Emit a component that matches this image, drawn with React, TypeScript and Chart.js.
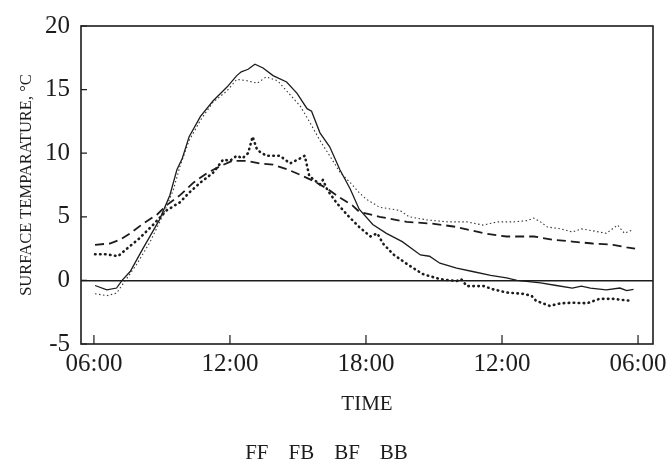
import React, { useEffect, useRef } from "react";
import { Chart, registerables } from "chart.js";

Chart.register(...registerables);

// ---- data (hours since midnight of day 1, temperature in °C) ----
const tickHours = [6, 12, 18, 24, 30];
const tickLabels = ["06:00", "12:00", "18:00", "12:00", "06:00"];

const seriesNames = ["FF", "FB", "BF", "BB"];

const ffHours = [6.05, 6.57, 7.0, 7.24, 7.6, 8.16, 8.9, 9.35, 9.66, 9.9, 10.2, 10.7, 11.25, 11.87, 12.3, 12.5, 12.8, 13.1, 13.46, 13.9, 14.5, 14.96, 15.4, 15.6, 15.97, 16.4, 16.85, 17.3, 17.7, 18.3, 18.9, 19.6, 20.4, 20.8, 21.26, 22.0, 22.7, 23.5, 24.2, 24.66, 25.7, 26.4, 27.1, 27.5, 27.9, 28.6, 29.2, 29.5, 29.8];
const ffTemps = [-0.4, -0.75, -0.6, 0, 0.7, 2.5, 4.8, 6.7, 8.7, 9.6, 11.3, 12.9, 14.1, 15.2, 16.1, 16.4, 16.6, 17.0, 16.7, 16.1, 15.6, 14.7, 13.5, 13.3, 11.6, 10.5, 8.7, 7.2, 5.6, 4.4, 3.7, 3.05, 2.0, 1.9, 1.35, 0.96, 0.7, 0.4, 0.2, 0.0, -0.2, -0.4, -0.6, -0.45, -0.6, -0.75, -0.6, -0.8, -0.7];

const fbHours = [6.05, 6.57, 7.0, 7.37, 7.9, 8.47, 9.04, 9.5, 9.8, 10.2, 10.7, 11.25, 11.87, 12.3, 12.75, 13.2, 13.6, 14.1, 14.5, 15.1, 15.5, 15.97, 16.4, 16.85, 17.3, 17.7, 18.0, 18.6, 19.5, 19.9, 20.7, 21.6, 22.45, 23.16, 23.8, 24.5, 25.1, 25.4, 25.7, 26.0, 26.6, 27.1, 27.5, 28.0, 28.6, 29.1, 29.4, 29.8];
const fbTemps = [-1.05, -1.2, -1.0, -0.05, 1.3, 3.0, 5.1, 7.1, 9.0, 11.0, 12.6, 14.0, 14.9, 15.8, 15.7, 15.5, 16.0, 15.7, 14.9, 13.7, 12.5, 11.0, 9.8, 8.5, 7.7, 6.9, 6.4, 5.75, 5.5, 5.0, 4.75, 4.6, 4.6, 4.35, 4.6, 4.6, 4.7, 4.9, 4.6, 4.2, 4.05, 3.8, 4.05, 3.9, 3.7, 4.35, 3.7, 4.0];

const bfHours = [6.05, 6.7, 7.15, 7.6, 8.16, 8.8, 9.2, 9.8, 10.4, 11.0, 11.6, 12.1, 12.75, 13.3, 13.9, 14.5, 15.1, 15.7, 16.3, 16.85, 17.4, 17.7, 18.6, 19.8, 21.0, 22.0, 23.2, 24.2, 25.4, 26.25, 27.1, 28.0, 28.9, 29.5, 29.87];
const bfTemps = [2.8, 2.9, 3.2, 3.7, 4.45, 5.2, 5.9, 6.7, 7.7, 8.45, 9.0, 9.4, 9.4, 9.2, 9.1, 8.75, 8.3, 7.8, 7.2, 6.5, 5.9, 5.4, 5.0, 4.6, 4.45, 4.2, 3.7, 3.45, 3.45, 3.2, 3.05, 2.9, 2.8, 2.6, 2.5];

const bbHours = [6.05, 6.57, 7.06, 7.46, 8.0, 8.6, 9.2, 9.8, 10.2, 10.7, 11.25, 11.7, 12.0, 12.3, 12.55, 12.8, 13.0, 13.2, 13.6, 14.2, 14.65, 15.1, 15.3, 15.5, 15.97, 16.1, 16.3, 16.7, 17.2, 17.7, 18.2, 18.5, 18.75, 19.2, 19.8, 20.5, 21.26, 22.0, 22.2, 22.45, 23.2, 23.6, 24.2, 24.9, 25.3, 25.5, 26.1, 26.6, 27.1, 27.75, 28.3, 28.9, 29.65];
const bbTemps = [2.05, 2.05, 1.9, 2.5, 3.3, 4.35, 5.5, 6.15, 6.9, 7.7, 8.45, 9.5, 9.4, 9.8, 9.6, 10.0, 11.3, 10.25, 9.8, 9.8, 9.2, 9.6, 9.8, 8.2, 7.55, 7.9, 7.1, 6.1, 5.1, 4.2, 3.45, 3.7, 2.9, 2.05, 1.3, 0.5, 0.1, -0.05, 0.1, -0.45, -0.45, -0.7, -0.95, -1.05, -1.2, -1.6, -2.0, -1.8, -1.75, -1.8, -1.45, -1.45, -1.6];

const xMin = 5.43;
const xMax = 30.66;
const yMin = -5;
const yMax = 20;

const FONT = "'Liberation Serif', 'DejaVu Serif', serif";
const INK = "#1c1c1c";

const toPoints = (hs: number[], ts: number[]) => hs.map((h, i) => ({ x: h, y: ts[i] }));

const framePlugin = {
  id: "frameAndInnerTicks",
  afterDatasetsDraw(chart: any) {
    const { ctx, chartArea, scales } = chart;
    const { left, right, top, bottom } = chartArea;
    ctx.save();
    ctx.strokeStyle = INK;
    ctx.lineWidth = 1.6;
    ctx.strokeRect(left, top, right - left, bottom - top);
    ctx.lineWidth = 1.2;
    ctx.beginPath();
    scales.y.ticks.forEach((t: any) => {
      const py = scales.y.getPixelForValue(t.value);
      ctx.moveTo(left, py);
      ctx.lineTo(left + 6, py);
    });
    scales.x.ticks.forEach((t: any) => {
      const px = scales.x.getPixelForValue(t.value);
      ctx.moveTo(px, bottom);
      ctx.lineTo(px, bottom - 9);
    });
    ctx.stroke();
    ctx.restore();
  },
};

export default function App() {
  const ref = useRef<HTMLCanvasElement | null>(null);

  useEffect(() => {
    if (!ref.current) return;
    const chart = new Chart(ref.current, {
      type: "line",
      data: {
        datasets: [
          {
            label: seriesNames[0],
            data: toPoints(ffHours, ffTemps),
            borderColor: INK,
            borderWidth: 1.3,
            pointRadius: 0,
            tension: 0,
          },
          {
            label: seriesNames[1],
            data: toPoints(fbHours, fbTemps),
            borderColor: "#3a3a3a",
            borderWidth: 1.1,
            borderDash: [1.5, 2.5],
            pointRadius: 0,
            tension: 0,
          },
          {
            label: seriesNames[2],
            data: toPoints(bfHours, bfTemps),
            borderColor: INK,
            borderWidth: 1.8,
            borderDash: [9, 5],
            pointRadius: 0,
            tension: 0,
          },
          {
            label: seriesNames[3],
            data: toPoints(bbHours, bbTemps),
            borderColor: INK,
            borderWidth: 2.6,
            borderDash: [0.5, 4.5],
            borderCapStyle: "round",
            pointRadius: 0,
            tension: 0,
          },
        ],
      },
      options: {
        animation: false,
        responsive: false,
        devicePixelRatio: 1,
        layout: { padding: { top: 21, right: 13, left: 0, bottom: -5 } },
        plugins: {
          tooltip: { enabled: false },
          legend: {
            position: "bottom",
            labels: {
              boxWidth: -10.5,
              padding: 20,
              color: INK,
              font: { family: FONT, size: 21 },
              generateLabels: (c: any) =>
                c.data.datasets.map((d: any, i: number) => ({
                  text: d.label,
                  fillStyle: "rgba(0,0,0,0)",
                  strokeStyle: "rgba(0,0,0,0)",
                  lineWidth: 0,
                  hidden: false,
                  datasetIndex: i,
                  fontColor: INK,
                })),
            },
          },
        },
        scales: {
          x: {
            type: "linear",
            min: xMin,
            max: xMax,
            afterBuildTicks: (s: any) => {
              s.ticks = tickHours.map((v) => ({ value: v }));
            },
            afterFit: (s: any) => {
              s.height = 79;
              s.paddingLeft = 0;
              s.paddingRight = 0;
            },
            grid: { display: false, drawTicks: false },
            border: { display: false },
            ticks: {
              autoSkip: false,
              maxRotation: 0,
              padding: 5,
              color: INK,
              font: { family: FONT, size: 25 },
              callback: (v: any) => tickLabels[tickHours.indexOf(Number(v))] ?? "",
            },
            title: {
              display: true,
              text: "TIME",
              color: INK,
              font: { family: FONT, size: 21 },
              padding: { top: 0, bottom: 6 },
            },
          },
          y: {
            min: yMin,
            max: yMax,
            afterFit: (s: any) => {
              s.width = 81;
            },
            grid: {
              drawTicks: false,
              lineWidth: 1.5,
              color: (c: any) => (c.tick && c.tick.value === 0 ? INK : "rgba(0,0,0,0)"),
            },
            border: { display: false },
            ticks: {
              stepSize: 2.5,
              padding: 11,
              color: INK,
              font: { family: FONT, size: 25 },
              callback: (v: any) => (Number(v) % 5 === 0 ? String(v) : ""),
            },
            title: {
              display: true,
              text: "SURFACE TEMPARATURE, °C",
              color: INK,
              font: { family: FONT, size: 16.5 },
              padding: { top: 17, bottom: 0 },
            },
          },
        },
      },
      plugins: [framePlugin],
    });
    return () => chart.destroy();
  }, []);

  return (
    <div style={{ position: "fixed", left: 0, top: 0, width: 666, height: 469, background: "#fff" }}>
      <canvas ref={ref} width={666} height={469} style={{ display: "block" }} />
    </div>
  );
}
